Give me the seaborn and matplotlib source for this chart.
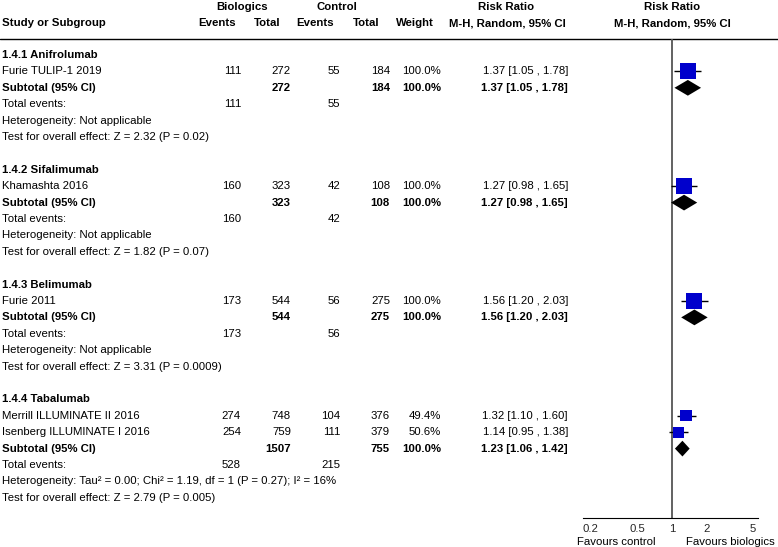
import numpy as np
import pandas as pd
import seaborn as sns
import matplotlib.pyplot as plt

# study level data
studies = ["Furie TULIP-1 2019", "Khamashta 2016", "Furie 2011",
           "Merrill ILLUMINATE II 2016", "Isenberg ILLUMINATE I 2016"]
study_group = [0, 1, 2, 3, 3]
bio_events = [111, 160, 173, 274, 254]
bio_total = [272, 323, 544, 748, 759]
ctl_events = [55, 42, 56, 104, 111]
ctl_total = [184, 108, 275, 376, 379]
weights = [100.0, 100.0, 100.0, 49.4, 50.6]
rr = [1.37, 1.27, 1.56, 1.32, 1.14]
rr_lo = [1.05, 0.98, 1.20, 1.10, 0.95]
rr_hi = [1.78, 1.65, 2.03, 1.60, 1.38]

# subgroup data
groups = ["1.4.1 Anifrolumab", "1.4.2 Sifalimumab", "1.4.3 Belimumab", "1.4.4 Tabalumab"]
sub_bio_events = [111, 160, 173, 528]
sub_bio_total = [272, 323, 544, 1507]
sub_ctl_events = [55, 42, 56, 215]
sub_ctl_total = [184, 108, 275, 755]
sub_rr = [1.37, 1.27, 1.56, 1.23]
sub_lo = [1.05, 0.98, 1.20, 1.06]
sub_hi = [1.78, 1.65, 2.03, 1.42]
heterogeneity = ["Not applicable", "Not applicable", "Not applicable",
                 "Tau² = 0.00; Chi² = 1.19, df = 1 (P = 0.27); I² = 16%"]
overall = ["Z = 2.32 (P = 0.02)", "Z = 1.82 (P = 0.07)",
           "Z = 3.31 (P = 0.0009)", "Z = 2.79 (P = 0.005)"]

ticks = [0.2, 0.5, 1, 2, 5]
tick_labels = ["0.2", "0.5", "1", "2", "5"]

sns.set_style("white")
plt.rcParams['font.family'] = ['Liberation Sans', 'DejaVu Sans']
FS = 8.2

W, H = 778, 547
fig = plt.figure(figsize=(W / 100, H / 100), dpi=100)

# text layer in pixel coords
ax_t = fig.add_axes([0, 0, 1, 1])
ax_t.set_xlim(0, W)
ax_t.set_ylim(H, 0)
ax_t.axis("off")

# row layout
ROW0, DY = 55, 16.4
rows = []
study_rows = []
sub_rows = []
r = 0
for g in range(len(groups)):
    rows.append(("group", g, r)); r += 1
    for i, sg in enumerate(study_group):
        if sg == g:
            rows.append(("study", i, r)); study_rows.append(r); r += 1
    rows.append(("subtotal", g, r)); sub_rows.append(r); r += 1
    rows.append(("events", g, r)); r += 1
    rows.append(("het", g, r)); r += 1
    rows.append(("overall", g, r)); r += 1
    r += 1

def ypix(row):
    return ROW0 + DY * row

def txt(x, y, s, ha="left", bold=False):
    ax_t.text(x, y, s, ha=ha, va="center", fontsize=FS,
              fontweight="bold" if bold else "normal", color="black")

# header
txt(242, 7, "Biologics", ha="center", bold=True)
txt(337, 7, "Control", ha="center", bold=True)
txt(506, 7, "Risk Ratio", ha="center", bold=True)
txt(672, 7, "Risk Ratio", ha="center", bold=True)
txt(2, 23, "Study or Subgroup", bold=True)
txt(236, 23, "Events", ha="right", bold=True)
txt(281, 23, "Total", ha="right", bold=True)
txt(334, 23, "Events", ha="right", bold=True)
txt(380, 23, "Total", ha="right", bold=True)
txt(434, 23, "Weight", ha="right", bold=True)
txt(566, 23, "M-H, Random, 95% CI", ha="right", bold=True)
txt(672, 23, "M-H, Random, 95% CI", ha="center", bold=True)
ax_t.plot([0, W], [38.5, 38.5], color="black", lw=1.0)

for kind, i, row in rows:
    y = ypix(row)
    if kind == "group":
        txt(2, y, groups[i], bold=True)
    elif kind == "study":
        txt(2, y, studies[i])
        txt(241, y, str(bio_events[i]), ha="right")
        txt(291, y, str(bio_total[i]), ha="right")
        txt(340, y, str(ctl_events[i]), ha="right")
        txt(390, y, str(ctl_total[i]), ha="right")
        txt(441, y, f"{weights[i]:.1f}%", ha="right")
        txt(568, y, f"{rr[i]:.2f} [{rr_lo[i]:.2f} , {rr_hi[i]:.2f}]", ha="right")
    elif kind == "subtotal":
        txt(2, y, "Subtotal (95% CI)", bold=True)
        txt(291, y, str(sub_bio_total[i]), ha="right", bold=True)
        txt(390, y, str(sub_ctl_total[i]), ha="right", bold=True)
        txt(441, y, "100.0%", ha="right", bold=True)
        txt(568, y, f"{sub_rr[i]:.2f} [{sub_lo[i]:.2f} , {sub_hi[i]:.2f}]", ha="right", bold=True)
    elif kind == "events":
        txt(2, y, "Total events:")
        txt(241, y, str(sub_bio_events[i]), ha="right")
        txt(340, y, str(sub_ctl_events[i]), ha="right")
    elif kind == "het":
        txt(2, y, "Heterogeneity: " + heterogeneity[i])
    elif kind == "overall":
        txt(2, y, "Test for overall effect: " + overall[i])

# forest axes: pixel 583..758 horizontally, 38..518 vertically
PX1, PX2, PY1, PY2 = 583, 758, 38.5, 518
ax_f = fig.add_axes([PX1 / W, 1 - PY2 / H, (PX2 - PX1) / W, (PY2 - PY1) / H])
ax_f.patch.set_alpha(0)
ax_f.set_xscale("log")
ax_f.set_xlim(10 ** ((PX1 - 672) / 116), 10 ** ((PX2 - 672) / 116))
ax_f.set_ylim((PY2 - ROW0) / DY, (PY1 - ROW0) / DY)

df = pd.DataFrame({"rr": rr, "lo": rr_lo, "hi": rr_hi, "weight": weights, "row": study_rows})
ax_f.hlines(df["row"], df["lo"], df["hi"], color="black", lw=1.0, zorder=2)
sns.scatterplot(data=df, x="rr", y="row", size="weight", sizes=(0, 133), size_norm=(0, 100),
                marker="s", color="#0000CC", edgecolor="#0000CC", linewidth=0,
                legend=False, ax=ax_f, zorder=3)

hh = 0.48
for k in range(len(groups)):
    yr = sub_rows[k]
    ax_f.fill([sub_lo[k], sub_rr[k], sub_hi[k], sub_rr[k]],
              [yr, yr - hh, yr, yr + hh], color="black", lw=0, zorder=3)

ax_f.axvline(1, color="#555555", lw=1.3, zorder=1)
for s in ["top", "right", "left"]:
    ax_f.spines[s].set_visible(False)
ax_f.spines["bottom"].set_color("black")
ax_f.spines["bottom"].set_linewidth(0.8)
ax_f.set_yticks([])
ax_f.set_xticks(ticks)
ax_f.set_xticklabels(tick_labels)
ax_f.minorticks_off()
ax_f.tick_params(axis="x", direction="inout", length=7, width=0.8, labelsize=FS, pad=1)
ax_f.set_xlabel("")
ax_f.set_ylabel("")

txt(616, 542, "Favours control", ha="center")
txt(730, 542, "Favours biologics", ha="center")

fig.savefig("out.png", dpi=100)
